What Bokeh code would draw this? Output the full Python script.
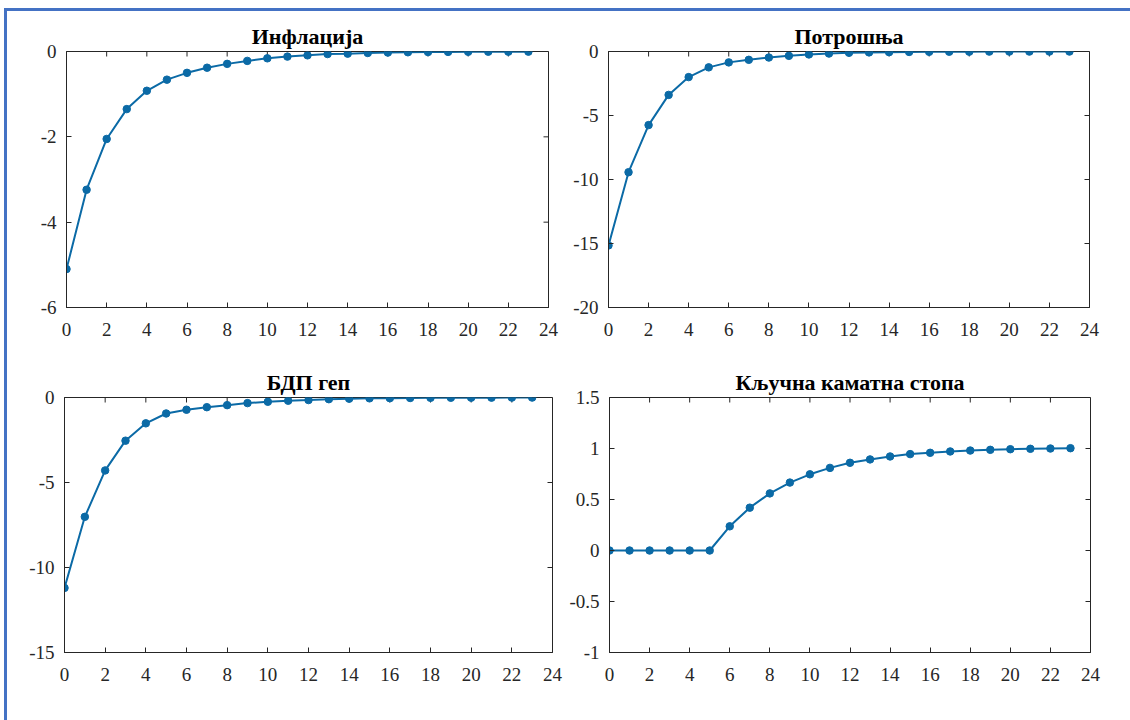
from bokeh.plotting import figure
from bokeh.layouts import column, row
from bokeh.models import Range1d, FixedTicker, Spacer, Div
from bokeh.embed import file_html
from bokeh.resources import INLINE

# ---- data ----
periods = list(range(24))

inflation = [-5.10, -3.24, -2.05, -1.35, -0.92, -0.66, -0.50, -0.38, -0.29, -0.22,
             -0.16, -0.12, -0.09, -0.06, -0.05, -0.035, -0.025, -0.018, -0.013,
             -0.009, -0.007, -0.005, -0.004, -0.003]
consumption = [-15.15, -9.43, -5.75, -3.39, -2.00, -1.24, -0.85, -0.65, -0.47, -0.34,
               -0.23, -0.16, -0.10, -0.07, -0.05, -0.035, -0.025, -0.018, -0.013,
               -0.009, -0.007, -0.005, -0.004, -0.003]
gdp_gap = [-11.20, -7.02, -4.29, -2.54, -1.52, -0.94, -0.72, -0.57, -0.45, -0.33,
           -0.25, -0.19, -0.15, -0.10, -0.07, -0.05, -0.04, -0.03, -0.02,
           -0.015, -0.01, -0.008, -0.006, -0.004]
policy_rate = [0.0, 0.0, 0.0, 0.0, 0.0, 0.0, 0.237, 0.42, 0.56, 0.666,
               0.747, 0.81, 0.86, 0.893, 0.922, 0.945, 0.958, 0.971, 0.980,
               0.987, 0.993, 0.997, 1.000, 1.003]

titles = ["Инфлација", "Потрошња", "БДП геп", "Кључна каматна стопа"]
x_ticks = list(range(0, 25, 2))
y_ticks_infl = [-6, -4, -2, 0]
y_ticks_cons = [-20, -15, -10, -5, 0]
y_ticks_gdp = [-15, -10, -5, 0]
y_ticks_rate = [-1, -0.5, 0, 0.5, 1, 1.5]

LINE = "#0b6aa6"
AX = "#262626"
FONT = "Liberation Serif"
BLUE = "#4472C4"
TICK_PX = 5


def fmt(v):
    if float(v).is_integer():
        return str(int(v))
    return str(v)


def panel(title, ys, yticks, bl, fw, br, bt, fh, bb):
    x0, x1 = x_ticks[0], x_ticks[-1]
    y0, y1 = yticks[0], yticks[-1]
    p = figure(frame_width=fw, frame_height=fh,
               min_border_left=bl, min_border_right=br,
               min_border_top=bt, min_border_bottom=bb,
               x_range=Range1d(x0, x1), y_range=Range1d(y0, y1),
               output_backend="svg", toolbar_location=None,
               background_fill_color="white", border_fill_color="white",
               outline_line_color=AX, outline_line_width=1, title=title)
    p.title.text_font = FONT
    p.title.text_font_size = "22px"
    p.title.text_font_style = "bold"
    p.title.text_color = "black"
    p.title.align = "center"
    p.title.standoff = 5
    p.xgrid.visible = False
    p.ygrid.visible = False

    p.xaxis.ticker = FixedTicker(ticks=x_ticks)
    p.yaxis.ticker = FixedTicker(ticks=yticks)
    p.yaxis.major_label_overrides = {t: fmt(t) for t in yticks}
    for ax in p.axis:
        ax.axis_line_color = AX
        ax.axis_line_width = 1
        ax.major_tick_line_color = AX
        ax.major_tick_in = TICK_PX
        ax.major_tick_out = 0
        ax.minor_tick_line_color = None
        ax.major_label_text_font = FONT
        ax.major_label_text_font_size = "19px"
        ax.major_label_text_color = AX
    p.xaxis.major_label_standoff = 15
    p.yaxis.major_label_standoff = 10

    # inward ticks on the top and right edges of the box
    dy = TICK_PX * (y1 - y0) / fh
    dx = TICK_PX * (x1 - x0) / fw
    p.segment(x0=x_ticks, y0=[y1] * len(x_ticks), x1=x_ticks, y1=[y1 - dy] * len(x_ticks),
              line_color=AX, line_width=1)
    p.segment(x0=[x1] * len(yticks), y0=yticks, x1=[x1 - dx] * len(yticks), y1=yticks,
              line_color=AX, line_width=1)

    p.line(periods, ys, line_color=LINE, line_width=2)
    p.scatter(periods, ys, size=7.5, fill_color=LINE, line_color=LINE)
    return p


tl = panel(titles[0], inflation, y_ticks_infl, 59, 482, 22, 40, 256, 45)
tr = panel(titles[1], consumption, y_ticks_cons, 37, 481, 42, 40, 256, 45)
bl = panel(titles[2], gdp_gap, y_ticks_gdp, 57, 488, 14, 45, 255, 68)
br = panel(titles[3], policy_rate, y_ticks_rate, 43, 481, 40, 45, 255, 68)

top_bar = Div(text="", width=1126, height=3, margin=0,
              styles={"background-color": BLUE})
left_bar = Div(text="", width=3, height=709, margin=0,
               styles={"background-color": BLUE})

grid = column(row(tl, tr), row(bl, br))
layout = column(
    Spacer(width=1130, height=8),
    row(Spacer(width=4, height=3), top_bar),
    row(Spacer(width=4, height=709), left_bar, grid),
)

open("out.html", "w").write(file_html(layout, INLINE))
